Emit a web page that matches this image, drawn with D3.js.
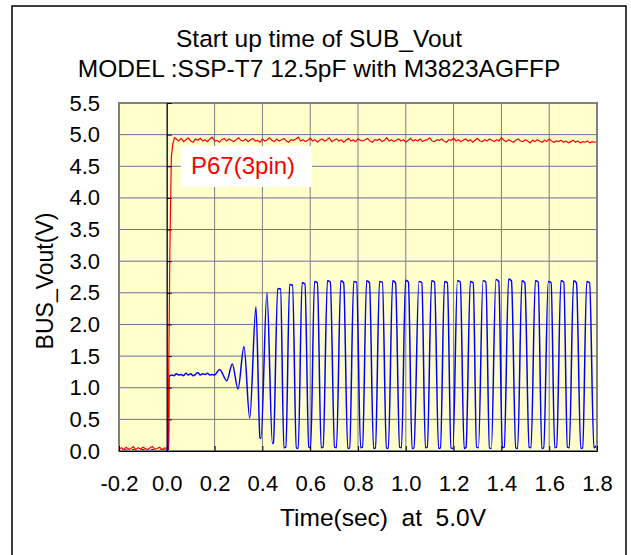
<!DOCTYPE html>
<html>
<head>
<meta charset="utf-8">
<script src="https://cdn.jsdelivr.net/npm/d3@7"></script>
<style>
  body { margin: 0; background: #fff; }
  svg { display: block; font-family: Arial, "Liberation Sans", sans-serif; }
</style>
</head>
<body>
<svg id="chart" width="631" height="555"></svg>
<script>
// text
const titleLines = ["Start up time of SUB_Vout", "MODEL :SSP-T7 12.5pF with M3823AGFFP"];
const xTitle = "Time(sec)  at  5.0V";
const yTitle = "BUS_Vout(V)";
const seriesLabel = "P67(3pin)";

// ticks
const xTicks = [-0.2, 0.0, 0.2, 0.4, 0.6, 0.8, 1.0, 1.2, 1.4, 1.6, 1.8];
const yTicks = [0.0, 0.5, 1.0, 1.5, 2.0, 2.5, 3.0, 3.5, 4.0, 4.5, 5.0, 5.5];

// red trace (P67), sampled every 10 ms before and after the rise
const sampleStep = 0.01;
const redBaseStart = -0.2;
const redBase = [0.03, 0.05, 0.02, 0.06, 0.03, 0.04, 0.07, 0.02, 0.05, 0.03, 0.06,
                 0.04, 0.02, 0.05, 0.07, 0.03, 0.04, 0.06, 0.02, 0.05, 0.04];
const redRiseT = [0.005, 0.008, 0.013, 0.019, 0.025, 0.032];
const redRiseV = [0.04, 1.2, 3.2, 4.65, 4.85, 4.95];
const redNoiseStart = 0.04;
const redNoise = [
  4.93,4.90,4.94,4.89,4.92,4.95,4.90,4.88,4.93,4.91,
  4.94,4.90,4.92,4.89,4.93,4.96,4.90,4.91,4.88,4.92,
  4.94,4.90,4.93,4.91,4.89,4.92,4.95,4.91,4.90,4.93,
  4.89,4.92,4.94,4.90,4.91,4.88,4.93,4.90,4.92,4.95,
  4.91,4.89,4.93,4.90,4.92,4.94,4.90,4.88,4.92,4.91,
  4.93,4.96,4.90,4.92,4.89,4.91,4.94,4.90,4.92,4.88,
  4.91,4.93,4.90,4.92,4.95,4.89,4.91,4.93,4.90,4.92,
  4.88,4.91,4.94,4.90,4.92,4.89,4.93,4.91,4.90,4.92,
  4.94,4.90,4.88,4.92,4.91,4.93,4.89,4.91,4.95,4.90,
  4.92,4.89,4.91,4.93,4.90,4.92,4.88,4.91,4.94,4.90,
  4.92,4.90,4.93,4.89,4.91,4.92,4.95,4.90,4.89,4.92,
  4.91,4.93,4.90,4.88,4.92,4.91,4.94,4.90,4.92,4.89,
  4.91,4.93,4.90,4.92,4.88,4.91,4.94,4.90,4.89,4.92,
  4.90,4.93,4.91,4.89,4.92,4.90,4.95,4.91,4.89,4.92,
  4.90,4.88,4.91,4.93,4.90,4.89,4.92,4.90,4.87,4.91,
  4.89,4.92,4.90,4.88,4.91,4.89,4.93,4.90,4.88,4.90,
  4.89,4.91,4.88,4.90,4.87,4.89,4.91,4.88,4.90,4.87,
  4.89,4.88,4.90,4.87,4.89,4.88,4.89];

// blue trace (SUB_Vout)
const blueBaseStart = -0.2;
const blueBase = [0.01, 0.00, 0.02, 0.01, 0.01, 0.00, 0.02, 0.01, 0.00, 0.01, 0.02,
                  0.01, 0.00, 0.01, 0.02, 0.01, 0.00, 0.01, 0.02, 0.01, 0.01];
const blueJumpT = [0.008, 0.009];
const blueJumpV = [0.01, 1.18];
const blueFlatStart = 0.01;
const blueFlat = [1.18, 1.20, 1.19, 1.22, 1.20, 1.21, 1.19, 1.23, 1.20, 1.22,
                  1.19, 1.21, 1.24, 1.20, 1.22, 1.21, 1.23, 1.20, 1.21, 1.20];
// growing oscillation: alternating peaks and troughs
const blueGrowT = [0.221, 0.251, 0.274, 0.298, 0.323, 0.347, 0.373, 0.390, 0.394, 0.419, 0.442, 0.446];
const blueGrowV = [1.29, 1.11, 1.375, 0.98, 1.65, 0.52, 2.28, 0.21, 0.20, 2.50, 0.12, 0.13];
// steady oscillation: each cycle = top-left, top-right, bottom-left, bottom-right
const blueOscT = [
  0.464, 0.476, 0.490, 0.498,   0.514, 0.526, 0.542, 0.550,   0.566, 0.578, 0.594, 0.602,
  0.618, 0.630, 0.646, 0.654,   0.672, 0.684, 0.702, 0.710,   0.728, 0.740, 0.757, 0.765,
  0.782, 0.794, 0.811, 0.819,   0.836, 0.848, 0.865, 0.873,   0.890, 0.902, 0.919, 0.927,
  0.945, 0.957, 0.974, 0.982,   0.999, 1.011, 1.026, 1.034,   1.055, 1.067, 1.082, 1.090,
  1.108, 1.120, 1.137, 1.145,   1.162, 1.174, 1.189, 1.197,   1.216, 1.228, 1.244, 1.252,
  1.270, 1.282, 1.296, 1.304,   1.323, 1.335, 1.350, 1.358,   1.377, 1.389, 1.404, 1.412,
  1.430, 1.442, 1.460, 1.468,   1.486, 1.498, 1.516, 1.524,   1.542, 1.554, 1.569, 1.577,
  1.596, 1.608, 1.623, 1.631,   1.649, 1.661, 1.676, 1.684,   1.702, 1.714, 1.732, 1.740,
  1.757, 1.769, 1.787, 1.795,   1.800];
const blueOscV = [
  2.57, 2.56, 0.05, 0.06,   2.63, 2.62, 0.05, 0.04,   2.66, 2.64, 0.06, 0.05,
  2.68, 2.66, 0.05, 0.06,   2.69, 2.67, 0.06, 0.05,   2.69, 2.66, 0.04, 0.05,
  2.68, 2.67, 0.05, 0.06,   2.69, 2.66, 0.04, 0.05,   2.68, 2.67, 0.05, 0.04,
  2.69, 2.66, 0.06, 0.05,   2.70, 2.67, 0.04, 0.05,   2.68, 2.66, 0.05, 0.06,
  2.69, 2.67, 0.04, 0.05,   2.68, 2.66, 0.05, 0.04,   2.69, 2.67, 0.04, 0.06,
  2.68, 2.66, 0.06, 0.05,   2.69, 2.67, 0.05, 0.04,   2.71, 2.68, 0.05, 0.06,
  2.72, 2.69, 0.05, 0.04,   2.69, 2.66, 0.06, 0.05,   2.69, 2.67, 0.04, 0.05,
  2.68, 2.66, 0.05, 0.06,   2.69, 2.67, 0.06, 0.05,   2.69, 2.66, 0.04, 0.05,
  2.68, 2.66, 0.05, 0.07,   0.10];

// assemble [t, v] points
const sampled = (start, vals) => vals.map((v, i) => [start + i * sampleStep, v]);
const zipTV = (ts, vs) => ts.map((t, i) => [t, vs[i]]);

const redPoints = [...sampled(redBaseStart, redBase), ...zipTV(redRiseT, redRiseV), ...sampled(redNoiseStart, redNoise)];
const bluePoints = [...sampled(blueBaseStart, blueBase), ...zipTV(blueJumpT, blueJumpV),
                    ...sampled(blueFlatStart, blueFlat), ...zipTV(blueGrowT, blueGrowV),
                    ...zipTV(blueOscT, blueOscV)];

// layout
const plot = { left: 119, right: 597, top: 103, bottom: 451 };

const svg = d3.select('#chart');

const x = d3.scaleLinear().domain([-0.2, 1.8]).range([plot.left, plot.right]);
const y = d3.scaleLinear().domain([0, 5.5]).range([plot.bottom, plot.top]);
const fmt = d => d.toFixed(1);

// outer frame
svg.append('rect')
  .attr('x', 12).attr('y', 6)
  .attr('width', 614).attr('height', 560)
  .attr('fill', '#fff')
  .attr('stroke', '#000')
  .attr('stroke-width', 1.5);

// titles
svg.selectAll('.title')
  .data(titleLines)
  .enter()
  .append('text')
  .attr('class', 'title')
  .attr('x', 319)
  .attr('y', (d, i) => 47 + i * 30)
  .attr('text-anchor', 'middle')
  .attr('font-size', 24.5)
  .text(d => d);

// plot background
svg.append('rect')
  .attr('x', plot.left).attr('y', plot.top)
  .attr('width', plot.right - plot.left).attr('height', plot.bottom - plot.top)
  .attr('fill', '#ffffcc');

// grid
svg.append('g')
  .selectAll('line')
  .data(yTicks.slice(1, -1))
  .enter()
  .append('line')
  .attr('x1', plot.left).attr('x2', plot.right)
  .attr('y1', d => y(d)).attr('y2', d => y(d))
  .attr('stroke', '#6b6ba3')
  .attr('stroke-width', 1);

svg.append('g')
  .selectAll('line')
  .data(xTicks.slice(1, -1))
  .enter()
  .append('line')
  .attr('y1', plot.top).attr('y2', plot.bottom)
  .attr('x1', d => x(d)).attr('x2', d => x(d))
  .attr('stroke', '#7a7a88')
  .attr('stroke-width', 1);

// traces
svg.append('clipPath').attr('id', 'clip')
  .append('rect')
  .attr('x', plot.left).attr('y', plot.top)
  .attr('width', plot.right - plot.left).attr('height', plot.bottom - plot.top);

const smoothLine = d3.line()
  .x(d => x(d[0]))
  .y(d => y(d[1]))
  .curve(d3.curveMonotoneX);

svg.append('path')
  .datum(bluePoints)
  .attr('clip-path', 'url(#clip)')
  .attr('d', smoothLine)
  .attr('fill', 'none')
  .attr('stroke', '#0000ff')
  .attr('stroke-width', 1.5);

svg.append('path')
  .datum(redPoints)
  .attr('clip-path', 'url(#clip)')
  .attr('d', d3.line().x(d => x(d[0])).y(d => y(d[1])))
  .attr('fill', 'none')
  .attr('stroke', '#ff0000')
  .attr('stroke-width', 1.2);

// plot frame
svg.append('rect')
  .attr('x', plot.left).attr('y', plot.top)
  .attr('width', plot.right - plot.left).attr('height', plot.bottom - plot.top)
  .attr('fill', 'none')
  .attr('stroke', '#808080')
  .attr('stroke-width', 2);

// axis through t = 0 with ticks to the right
svg.append('g')
  .attr('transform', `translate(${x(0)},0)`)
  .call(d3.axisRight(y).tickValues(yTicks).tickSize(5).tickSizeOuter(0).tickFormat(''))
  .call(g => g.selectAll('path, line').attr('stroke', '#000'));

// bottom axis with ticks upward
svg.append('g')
  .attr('transform', `translate(0,${plot.bottom})`)
  .call(d3.axisTop(x).tickValues(xTicks).tickSize(5).tickSizeOuter(0).tickFormat(''))
  .call(g => g.selectAll('path, line').attr('stroke', '#000'));

// tick labels
svg.append('g')
  .attr('transform', `translate(${plot.left},0)`)
  .call(d3.axisLeft(y).tickValues(yTicks).tickSize(0).tickPadding(19).tickFormat(fmt))
  .call(g => g.select('.domain').remove())
  .call(g => g.selectAll('text').attr('font-size', 22).attr('fill', '#000').attr('font-family', null));

svg.append('g')
  .attr('transform', `translate(0,${plot.bottom})`)
  .call(d3.axisBottom(x).tickValues(xTicks).tickSize(0).tickPadding(24).tickFormat(fmt))
  .call(g => g.select('.domain').remove())
  .call(g => g.selectAll('text').attr('font-size', 22).attr('fill', '#000').attr('font-family', null));

// axis titles
svg.append('text')
  .attr('x', 383).attr('y', 526)
  .attr('text-anchor', 'middle')
  .attr('font-size', 24.5)
  .style('white-space', 'pre')
  .text(xTitle);

svg.append('text')
  .attr('transform', 'translate(53,281) rotate(-90)')
  .attr('text-anchor', 'middle')
  .attr('font-size', 23)
  .text(yTitle);

// series label box
svg.append('rect')
  .attr('x', 181).attr('y', 146)
  .attr('width', 131).attr('height', 41)
  .attr('fill', '#fff');

svg.append('text')
  .attr('x', 191).attr('y', 174)
  .attr('font-size', 24)
  .attr('fill', '#ff0000')
  .text(seriesLabel);
</script>
</body>
</html>
